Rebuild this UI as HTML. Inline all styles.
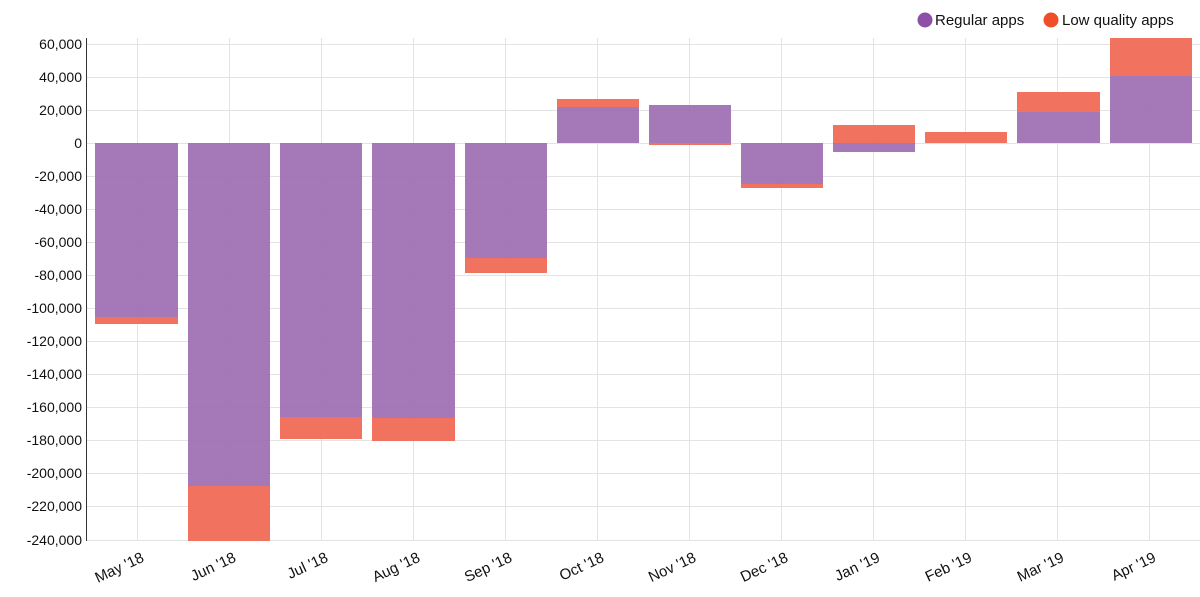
<!DOCTYPE html>
<html><head><meta charset="utf-8"><style>body{margin:0;background:#fff}svg{display:block;font-family:"Liberation Sans",Arial,sans-serif}</style></head><body>
<svg width="1200" height="597" viewBox="0 0 1200 597" xmlns="http://www.w3.org/2000/svg">
<g stroke="#e3e3e3" stroke-width="1">
<line x1="87" x2="1200" y1="44.5" y2="44.5"/><line x1="87" x2="1200" y1="77.5" y2="77.5"/><line x1="87" x2="1200" y1="110.5" y2="110.5"/><line x1="87" x2="1200" y1="143.5" y2="143.5"/><line x1="87" x2="1200" y1="176.5" y2="176.5"/><line x1="87" x2="1200" y1="209.5" y2="209.5"/><line x1="87" x2="1200" y1="242.5" y2="242.5"/><line x1="87" x2="1200" y1="275.5" y2="275.5"/><line x1="87" x2="1200" y1="308.5" y2="308.5"/><line x1="87" x2="1200" y1="341.5" y2="341.5"/><line x1="87" x2="1200" y1="374.5" y2="374.5"/><line x1="87" x2="1200" y1="407.5" y2="407.5"/><line x1="87" x2="1200" y1="440.5" y2="440.5"/><line x1="87" x2="1200" y1="473.5" y2="473.5"/><line x1="87" x2="1200" y1="506.5" y2="506.5"/><line x1="87" x2="1200" y1="540.5" y2="540.5"/>
<line x1="137.5" x2="137.5" y1="38" y2="541"/><line x1="229.5" x2="229.5" y1="38" y2="541"/><line x1="321.5" x2="321.5" y1="38" y2="541"/><line x1="413.5" x2="413.5" y1="38" y2="541"/><line x1="505.5" x2="505.5" y1="38" y2="541"/><line x1="597.5" x2="597.5" y1="38" y2="541"/><line x1="689.5" x2="689.5" y1="38" y2="541"/><line x1="781.5" x2="781.5" y1="38" y2="541"/><line x1="873.5" x2="873.5" y1="38" y2="541"/><line x1="965.5" x2="965.5" y1="38" y2="541"/><line x1="1057.5" x2="1057.5" y1="38" y2="541"/><line x1="1149.5" x2="1149.5" y1="38" y2="541"/>
</g>
<g fill="#9b6aaf" fill-opacity="0.9">
<rect x="95" y="143" width="83" height="174"/><rect x="188" y="143" width="82" height="343"/><rect x="280" y="143" width="82" height="274"/><rect x="372" y="143" width="83" height="275"/><rect x="465" y="143" width="82" height="115"/><rect x="557" y="107" width="82" height="36"/><rect x="649" y="105" width="82" height="38"/><rect x="741" y="143" width="82" height="41"/><rect x="833" y="143" width="82" height="9"/><rect x="1017" y="112" width="83" height="31"/><rect x="1110" y="76" width="82" height="67"/>
</g>
<g fill="#f06a55" fill-opacity="0.95">
<rect x="95" y="317" width="83" height="7"/><rect x="188" y="486" width="82" height="55"/><rect x="280" y="417" width="82" height="22"/><rect x="372" y="418" width="83" height="23"/><rect x="465" y="258" width="82" height="15"/><rect x="557" y="99" width="82" height="8"/><rect x="649" y="143" width="82" height="2"/><rect x="741" y="184" width="82" height="4"/><rect x="833" y="125" width="82" height="18"/><rect x="925" y="132" width="82" height="11"/><rect x="1017" y="92" width="83" height="20"/><rect x="1110" y="38" width="82" height="38"/>
</g>
<line x1="86.5" x2="86.5" y1="38" y2="541" stroke="#333" stroke-width="1"/>
<g font-size="14" fill="#111" text-anchor="end">
<text x="82" y="49">60,000</text><text x="82" y="82">40,000</text><text x="82" y="115">20,000</text><text x="82" y="148">0</text><text x="82" y="181">-20,000</text><text x="82" y="214">-40,000</text><text x="82" y="247">-60,000</text><text x="82" y="280">-80,000</text><text x="82" y="313">-100,000</text><text x="82" y="346">-120,000</text><text x="82" y="379">-140,000</text><text x="82" y="412">-160,000</text><text x="82" y="445">-180,000</text><text x="82" y="478">-200,000</text><text x="82" y="511">-220,000</text><text x="82" y="545">-240,000</text>
</g>
<g font-size="15" fill="#111" text-anchor="end">
<text transform="translate(145,561) rotate(-25)">May '18</text><text transform="translate(237,561) rotate(-25)">Jun '18</text><text transform="translate(329,561) rotate(-25)">Jul '18</text><text transform="translate(421,561) rotate(-25)">Aug '18</text><text transform="translate(513,561) rotate(-25)">Sep '18</text><text transform="translate(605,561) rotate(-25)">Oct '18</text><text transform="translate(697,561) rotate(-25)">Nov '18</text><text transform="translate(789,561) rotate(-25)">Dec '18</text><text transform="translate(881,561) rotate(-25)">Jan '19</text><text transform="translate(973,561) rotate(-25)">Feb '19</text><text transform="translate(1065,561) rotate(-25)">Mar '19</text><text transform="translate(1157,561) rotate(-25)">Apr '19</text>
</g>
<circle cx="925" cy="20" r="7.5" fill="#8e4fa8"/><text x="935" y="25" font-size="15" fill="#111">Regular apps</text>
<circle cx="1051" cy="20" r="7.5" fill="#f04e2a"/><text x="1062" y="25" font-size="15" fill="#111">Low quality apps</text>
</svg>
</body></html>
